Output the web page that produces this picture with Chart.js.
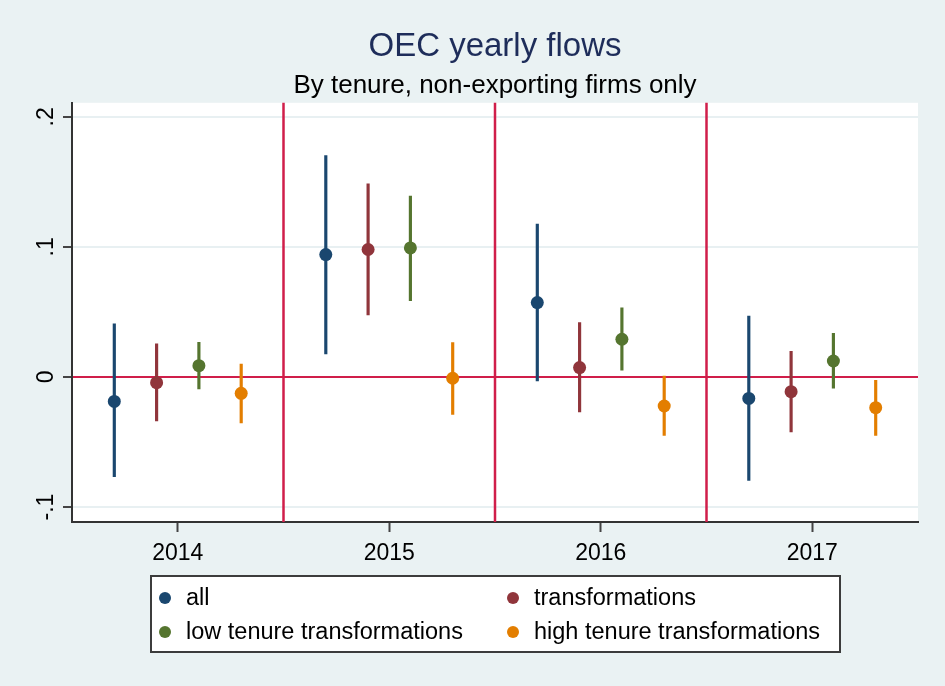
<!DOCTYPE html>
<html>
<head>
<meta charset="utf-8">
<script src="https://cdn.jsdelivr.net/npm/chart.js@4.4.1/dist/chart.umd.min.js"></script>
<style>
  html, body { margin: 0; padding: 0; background: #eaf2f3; }
  #wrap { width: 945px; height: 686px; }
</style>
</head>
<body>
<div id="wrap"><canvas id="chart" width="945" height="686"></canvas></div>
<script>
// data
const years = [2014, 2015, 2016, 2017];
const yTicks = [-0.1, 0, 0.1, 0.2];
const dividers = [2014.5, 2015.5, 2016.5];

const seriesNames = ["all", "transformations", "low tenure transformations", "high tenure transformations"];

const allEst = [-0.0188, 0.0941, 0.0572, -0.0165];
const allLo = [-0.0767, 0.0177, -0.0031, -0.0796];
const allHi = [0.0408, 0.1702, 0.1175, 0.0468];

const transEst = [-0.0044, 0.0980, 0.0072, -0.0113];
const transLo = [-0.0338, 0.0477, -0.0269, -0.0423];
const transHi = [0.0254, 0.1485, 0.0418, 0.0198];

const lowEst = [0.0087, 0.0992, 0.0290, 0.0123];
const lowLo = [-0.0092, 0.0587, 0.0052, -0.0087];
const lowHi = [0.0267, 0.1390, 0.0531, 0.0336];

const highEst = [-0.0126, -0.0010, -0.0223, -0.0236];
const highLo = [-0.0354, -0.0288, -0.0449, -0.0449];
const highHi = [0.0100, 0.0264, 0.0006, -0.0026];

const FONT = "'Liberation Sans', Arial, sans-serif";
const colors = ["#1a476f", "#90353b", "#55752f", "#e37e00"];
const dodge = [-0.3, -0.1, 0.1, 0.3];
const crimson = "#d01e4a";

const est = [allEst, transEst, lowEst, highEst];
const lo = [allLo, transLo, lowLo, highLo];
const hi = [allHi, transHi, lowHi, highHi];

const datasets = [];
seriesNames.forEach((name, s) => {
  datasets.push({
    type: "scatter",
    label: name,
    order: 0,
    data: years.map((yr, i) => ({ x: yr + dodge[s], y: est[s][i] })),
    backgroundColor: colors[s],
    borderWidth: 0,
    pointRadius: 6.5,
    pointHoverRadius: 6.5,
  });
});
seriesNames.forEach((name, s) => {
  datasets.push({
    type: "bar",
    label: name + " CI",
    order: 1,
    grouped: false,
    data: years.map((yr, i) => ({ x: yr + dodge[s], y: [lo[s][i], hi[s][i]] })),
    backgroundColor: colors[s],
    borderWidth: 0,
    barThickness: 2.5,
  });
});

function fmtTick(v) {
  if (Math.abs(v) < 1e-9) return "0";
  return String(Math.round(v * 10) / 10).replace("0.", ".");
}

const backdrop = {
  id: "backdrop",
  beforeDraw(chart) {
    const { ctx, chartArea: a } = chart;
    ctx.save();
    ctx.fillStyle = "#eaf2f3";
    ctx.fillRect(0, 0, chart.width, chart.height);
    ctx.fillStyle = "#ffffff";
    ctx.fillRect(a.left, a.top, a.right - a.left, a.bottom - a.top);
    ctx.restore();
  },
  beforeDatasetsDraw(chart) {
    const { ctx, chartArea: a } = chart;
    const x = chart.scales.x;
    ctx.save();
    ctx.strokeStyle = crimson;
    ctx.lineWidth = 2.5;
    dividers.forEach((d) => {
      const px = x.getPixelForValue(d);
      ctx.beginPath();
      ctx.moveTo(px, a.top);
      ctx.lineTo(px, a.bottom);
      ctx.stroke();
    });
    ctx.restore();
  },
};

const yLabels = {
  id: "yLabels",
  afterDraw(chart) {
    const { ctx } = chart;
    const y = chart.scales.y;
    const px = y.right - 19;
    ctx.save();
    ctx.fillStyle = "#000";
    ctx.font = "23px " + FONT;
    ctx.textAlign = "center";
    ctx.textBaseline = "alphabetic";
    y.ticks.forEach((t, i) => {
      const py = y.getPixelForTick(i);
      ctx.save();
      ctx.translate(px, py);
      ctx.rotate(-Math.PI / 2);
      ctx.fillText(t.label, 0, 0);
      ctx.restore();
    });
    ctx.restore();
  },
};

const boxLegend = {
  id: "boxLegend",
  afterDraw(chart) {
    const { ctx } = chart;
    const items = chart.data.datasets.filter((d) => d.type === "scatter");
    const box = { x: 151, y: 576, w: 689, h: 76 };
    const cols = [165, 513];
    const rows = [598, 632];
    ctx.save();
    ctx.fillStyle = "#ffffff";
    ctx.fillRect(box.x, box.y, box.w, box.h);
    ctx.strokeStyle = "#3c3c3c";
    ctx.lineWidth = 2;
    ctx.strokeRect(box.x, box.y, box.w, box.h);
    ctx.font = "23.5px " + FONT;
    ctx.textAlign = "left";
    ctx.textBaseline = "middle";
    items.forEach((d, i) => {
      const cx = cols[i % 2];
      const cy = rows[Math.floor(i / 2)];
      ctx.fillStyle = d.backgroundColor;
      ctx.beginPath();
      ctx.arc(cx, cy, 6, 0, Math.PI * 2);
      ctx.fill();
      ctx.fillStyle = "#000";
      ctx.fillText(d.label, cx + 21, cy + 1);
    });
    ctx.restore();
  },
};

new Chart(document.getElementById("chart"), {
  type: "scatter",
  data: { datasets },
  options: {
    responsive: false,
    animation: false,
    events: [],
    layout: { padding: { left: 72, right: 27, top: 0, bottom: 124 } },
    plugins: {
      legend: { display: false },
      tooltip: { enabled: false },
      title: {
        display: true,
        text: "OEC yearly flows",
        color: "#1e2d5a",
        font: { family: FONT, size: 33, weight: "normal", lineHeight: 1.2 },
        padding: { top: 27, bottom: 0 },
      },
      subtitle: {
        display: true,
        text: "By tenure, non-exporting firms only",
        color: "#000",
        font: { family: FONT, size: 26, weight: "normal", lineHeight: 1.2 },
        padding: { top: 4, bottom: 1 },
      },
    },
    scales: {
      x: {
        type: "linear",
        min: 2013.5,
        max: 2017.5,
        offset: false,
        afterBuildTicks: (scale) => {
          scale.ticks = years.map((v) => ({ value: v }));
        },
        afterFit: (scale) => {
          scale.height = 40;
        },
        grid: {
          offset: false,
          drawOnChartArea: false,
          drawTicks: true,
          tickLength: 10,
          tickColor: "#444",
          tickWidth: 2,
        },
        border: { display: true, color: "#333", width: 2 },
        ticks: {
          color: "#000",
          font: { family: FONT, size: 23 },
          padding: 8,
          maxRotation: 0,
          callback: (v) => String(v),
        },
      },
      y: {
        type: "linear",
        min: -0.1115,
        max: 0.2108,
        afterBuildTicks: (scale) => {
          scale.ticks = yTicks.map((v) => ({ value: v }));
        },
        afterFit: (scale) => {
          scale.width = 0;
        },
        grid: {
          color: (c) => (c.tick && Math.abs(c.tick.value) < 1e-9 ? crimson : "#e8f0f2"),
          lineWidth: 2,
          tickLength: 9,
          tickColor: "#444",
          tickWidth: 2,
        },
        border: { display: true, color: "#333", width: 2 },
        ticks: {
          display: false,
          callback: (v) => fmtTick(v),
        },
      },
    },
  },
  plugins: [backdrop, yLabels, boxLegend],
});
</script>
</body>
</html>
